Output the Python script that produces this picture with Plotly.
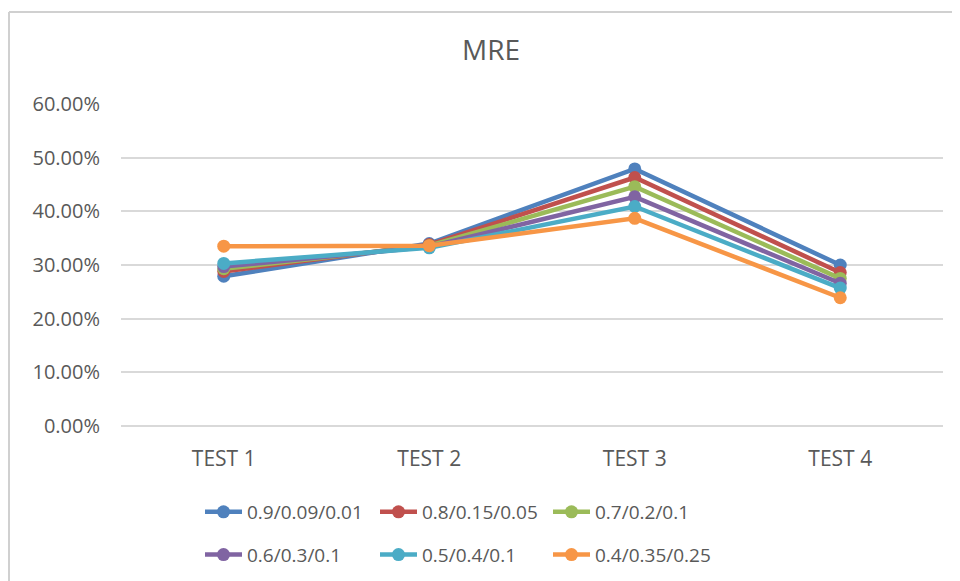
"""MRE line chart recreated with Plotly."""

import plotly.graph_objects as go

# data
tests = ["TEST 1", "TEST 2", "TEST 3", "TEST 4"]
series_names = [
    "0.9/0.09/0.01",
    "0.8/0.15/0.05",
    "0.7/0.2/0.1",
    "0.6/0.3/0.1",
    "0.5/0.4/0.1",
    "0.4/0.35/0.25",
]
mre_09 = [0.279, 0.340, 0.479, 0.300]
mre_08 = [0.288, 0.338, 0.463, 0.286]
mre_07 = [0.293, 0.336, 0.446, 0.275]
mre_06 = [0.297, 0.334, 0.427, 0.266]
mre_05 = [0.303, 0.332, 0.409, 0.257]
mre_04 = [0.335, 0.336, 0.387, 0.239]
series_values = [mre_09, mre_08, mre_07, mre_06, mre_05, mre_04]
y_ticks = [0.0, 0.1, 0.2, 0.3, 0.4, 0.5, 0.6]

COLORS = ["#4F81BD", "#C0504D", "#9BBB59", "#8064A2", "#4BACC6", "#F79646"]
# legend columns as in the reference: (blue, purple), (red, aqua), (green, orange)
LEGEND_OF = ["legend", "legend2", "legend3", "legend", "legend2", "legend3"]
TEXT = "#595959"
GRID = "#D9D9D9"
FONT = "Open Sans"

# page offset (body margin) and plot area, all in screen pixels
OFF = 8
PLOT_LEFT, PLOT_RIGHT, PLOT_TOP, PLOT_BOTTOM = 121, 943, 104, 426
L, T = PLOT_LEFT - OFF, PLOT_TOP - OFF
R, B = 960 - (PLOT_RIGHT - OFF), 581 - (PLOT_BOTTOM - OFF)
W, H = PLOT_RIGHT - PLOT_LEFT, PLOT_BOTTOM - PLOT_TOP


def px_x(x):
    return (x - PLOT_LEFT) / W


def px_y(y):
    return (PLOT_BOTTOM - y) / H


fig = go.Figure()

for i, (name, vals) in enumerate(zip(series_names, series_values)):
    fig.add_trace(go.Scatter(
        x=tests,
        y=vals,
        name=name,
        mode="lines+markers",
        line=dict(color=COLORS[i], width=4.5),
        marker=dict(color=COLORS[i], size=13),
        legend=LEGEND_OF[i],
        legendgroup=name,
    ))

legend_base = dict(
    orientation="v",
    yanchor="top",
    y=px_y(493),
    xanchor="left",
    font=dict(family=FONT, size=19, color=TEXT),
    tracegroupgap=15,
    itemwidth=37,
    bgcolor="rgba(0,0,0,0)",
)

# chart frame (light grey border like the source screenshot)
frame = dict(type="line", xref="paper", yref="paper",
             line=dict(color="#D0D0D0", width=2), layer="below")

fig.update_layout(
    width=960,
    height=581,
    margin=dict(l=L, r=R, t=T, b=B, autoexpand=False),
    paper_bgcolor="white",
    plot_bgcolor="white",
    font=dict(family=FONT, color=TEXT),
    title=dict(
        text="MRE",
        x=(491 - OFF) / 960, xref="container", xanchor="center",
        y=1 - (50 - OFF) / 581, yref="container", yanchor="middle",
        font=dict(family=FONT, size=28, color=TEXT),
    ),
    legend=dict(legend_base, x=px_x(200)),
    legend2=dict(legend_base, x=px_x(375)),
    legend3=dict(legend_base, x=px_x(548)),
    shapes=[
        dict(frame, x0=px_x(9), x1=px_x(9), y0=px_y(600), y1=px_y(12)),
        dict(frame, x0=px_x(9), x1=px_x(980), y0=px_y(12), y1=px_y(12)),
    ],
    xaxis=dict(
        showgrid=False,
        showline=False,
        zeroline=False,
        ticks="",
        ticklabelstandoff=18,
        tickfont=dict(family=FONT, size=21, color=TEXT),
        range=[-0.5, 3.5],
    ),
    yaxis=dict(
        range=[0, 0.6],
        tickvals=y_ticks,
        tickformat=".2%",
        showgrid=True,
        gridcolor=GRID,
        gridwidth=1.5,
        zeroline=True,
        zerolinecolor=GRID,
        zerolinewidth=1.5,
        ticks="",
        ticklabelstandoff=20,
        tickfont=dict(family=FONT, size=20, color=TEXT),
    ),
)

fig.write_html("out.html")
